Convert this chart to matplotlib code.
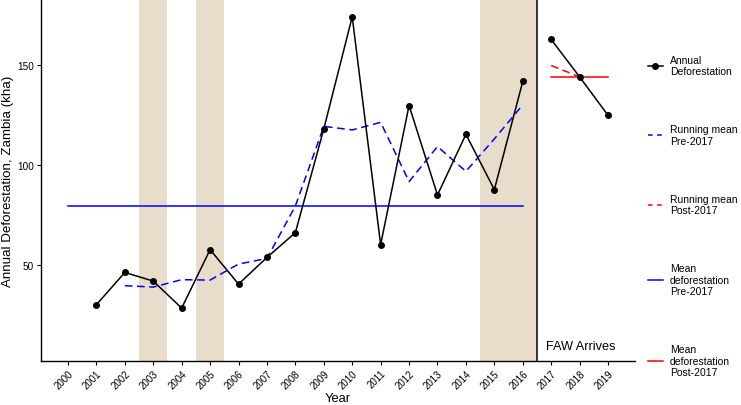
import numpy as np
import matplotlib
matplotlib.use('Agg')
import matplotlib.pyplot as plt
from matplotlib.lines import Line2D

plt.rcParams['font.family'] = ['Liberation Sans', 'DejaVu Sans']

# annual deforestation (kha)
years_pre = [2001, 2002, 2003, 2004, 2005, 2006, 2007, 2008, 2009, 2010, 2011, 2012, 2013, 2014, 2015, 2016]
defor_pre = [30.2, 46.3, 42.0, 28.5, 57.7, 40.5, 53.8, 66.2, 118.0, 174.0, 60.2, 129.7, 85.0, 115.3, 87.7, 141.7]
years_post = [2017, 2018, 2019]
defor_post = [162.7, 144.0, 124.8]

# running means
run_pre_years = [2002, 2003, 2004, 2005, 2006, 2007, 2008, 2009, 2010, 2011, 2012, 2013, 2014, 2015, 2016]
run_pre = [39.7, 39.0, 42.7, 42.5, 50.5, 53.3, 79.5, 119.3, 117.5, 121.3, 91.7, 109.2, 96.8, 113.0, 130.0]
run_post_years = [2017, 2018]
run_post = [149.7, 144.0]

# period means
mean_pre_span = [2000, 2016]
mean_pre = 79.7
mean_post_span = [2017, 2019]
mean_post = 144.0

# shaded years
bands = [(2002.5, 2003.5), (2004.5, 2005.5), (2014.5, 2016.5)]
faw_year = 2016.5
tick_years = list(range(2000, 2020))

band_col = '#E8DCCA'

fig = plt.figure(figsize=(7.41, 4.06), dpi=100)
ax = fig.add_axes([0.0553, 0.108, 0.8017, 0.89])

for b0, b1 in bands:
    ax.axvspan(b0, b1, color=band_col, lw=0, zorder=0)
ax.axvline(faw_year, color='black', lw=1.1, zorder=1)

ax.plot(mean_pre_span, [mean_pre, mean_pre], color='blue', lw=1.1, zorder=2)
ax.plot(mean_post_span, [mean_post, mean_post], color='red', lw=1.1, zorder=2)
ax.plot(run_pre_years, run_pre, color='blue', lw=1.1, ls=(0, (5, 3)), zorder=3)
ax.plot(run_post_years, run_post, color='red', lw=1.1, ls=(0, (5, 3)), zorder=3)
ax.plot(years_pre, defor_pre, color='black', lw=1.1, marker='o', ms=4, zorder=4)
ax.plot(years_post, defor_post, color='black', lw=1.1, marker='o', ms=4, zorder=4)

ax.text(2016.8, 9.5, 'FAW Arrives', fontsize=9.2, va='center', ha='left')

ax.set_xlim(1999.05, 2019.95)
ax.set_ylim(2, 182.5)
ax.set_xticks(tick_years)
ax.set_xticklabels([str(y) for y in tick_years], rotation=45, ha='right',
                   rotation_mode='anchor', fontsize=7)
ax.set_yticks([50, 100, 150])
ax.tick_params(axis='y', labelsize=7.2, length=3, width=0.8, pad=2)
ax.tick_params(axis='x', length=3, width=0.8, pad=2)
for s in ['top', 'right']:
    ax.spines[s].set_visible(False)
for s in ['left', 'bottom']:
    ax.spines[s].set_linewidth(1.0)

ax.set_xlabel('Year', fontsize=9.3)
ax.xaxis.set_label_coords(0.5, -0.086)
ax.set_ylabel('Annual Deforestation, Zambia (kha)', fontsize=9.6)
ax.yaxis.set_label_coords(-0.046, 0.5)

handles = [
    Line2D([], [], color='black', lw=1.1, marker='o', ms=4),
    Line2D([], [], color='blue', lw=1.1, ls=(0, (3, 3))),
    Line2D([], [], color='red', lw=1.1, ls=(0, (3, 3))),
    Line2D([], [], color='blue', lw=1.1),
    Line2D([], [], color='red', lw=1.1),
]
labels = ['Annual\nDeforestation', 'Running mean\nPre-2017', 'Running mean\nPost-2017',
          'Mean\ndeforestation\nPre-2017', 'Mean\ndeforestation\nPost-2017']
fig.legend(handles, labels, loc='upper left', bbox_to_anchor=(0.8745, 0.863),
           frameon=False, fontsize=7.5, handlelength=1.4, handletextpad=0.7,
           labelspacing=4.6, borderpad=0, borderaxespad=0)

fig.savefig('out.png', dpi=100)
